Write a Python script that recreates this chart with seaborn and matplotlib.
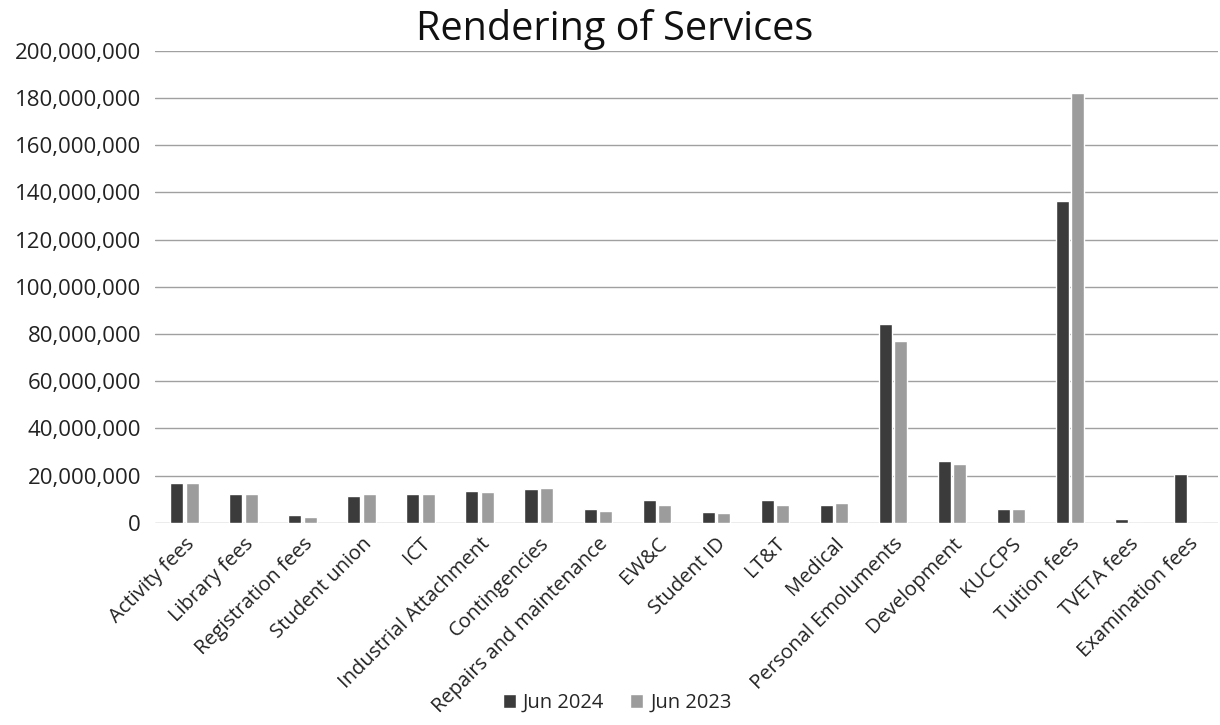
import matplotlib
matplotlib.use("Agg")
import matplotlib.pyplot as plt
import seaborn as sns
import pandas as pd
from matplotlib.ticker import FuncFormatter, MultipleLocator

categories = ["Activity fees", "Library fees", "Registration fees", "Student union", "ICT",
              "Industrial Attachment", "Contingencies", "Repairs and maintenance", "EW&C",
              "Student ID", "LT&T", "Medical", "Personal Emoluments", "Development",
              "KUCCPS", "Tuition fees", "TVETA fees", "Examination fees"]
jun_2024 = [16.8e6, 12.3e6, 3.2e6, 11.3e6, 12.3e6, 13.5e6, 14.5e6, 5.8e6, 9.8e6,
            4.5e6, 9.8e6, 7.3e6, 84.0e6, 26.0e6, 6.0e6, 136.5e6, 1.5e6, 20.5e6]
jun_2023 = [16.9e6, 12.3e6, 2.3e6, 12.3e6, 12.3e6, 13.0e6, 14.8e6, 4.8e6, 7.5e6,
            4.2e6, 7.5e6, 8.3e6, 77.0e6, 25.0e6, 5.8e6, 182.0e6, 0.0, 0.0]
series_names = ["Jun 2024", "Jun 2023"]

df = pd.DataFrame({
    "category": categories * 2,
    "value": jun_2024 + jun_2023,
    "series": [series_names[0]] * len(categories) + [series_names[1]] * len(categories),
})

sns.set_theme(style="white")
plt.rcParams["font.family"] = ["Open Sans", "DejaVu Sans"]

fig = plt.figure(figsize=(12.2, 7.25), dpi=100)
ax = fig.add_axes([0.127, 0.279, 0.871, 0.651])

sns.barplot(data=df, x="category", y="value", hue="series", order=categories,
            hue_order=series_names, palette=["#3b3b3b", "#9c9c9c"],
            width=0.52, gap=0.15, ax=ax, saturation=1, legend=True)

ax.set_ylim(0, 200e6)
ax.set_xlim(-0.5, len(categories) - 0.5)
ax.yaxis.set_major_locator(MultipleLocator(20e6))
ax.yaxis.set_major_formatter(FuncFormatter(lambda v, p: f"{int(round(v)):,}"))
ax.grid(axis="y", color="#a0a0a0", linewidth=1.0)
ax.set_axisbelow(True)
for s in ax.spines.values():
    s.set_visible(False)
ax.set_xlabel("")
ax.set_ylabel("")
ax.tick_params(axis="y", labelsize=16, colors="#222222", pad=10, length=0)
ax.tick_params(axis="x", labelsize=14.5, colors="#222222", pad=8, length=0)
plt.setp(ax.get_xticklabels(), rotation=45, ha="right", rotation_mode="anchor")

fig.text(0.504, 0.960, "Rendering of Services", ha="center", va="center",
         fontsize=28.5, color="#111111")

ax.legend(loc="lower center", bbox_to_anchor=(0.435, -0.442), ncol=2, frameon=False,
          fontsize=14.5, handlelength=0.65, handleheight=0.65, handletextpad=0.35,
          columnspacing=1.3)

fig.savefig("out.png", dpi=100, facecolor="white")
